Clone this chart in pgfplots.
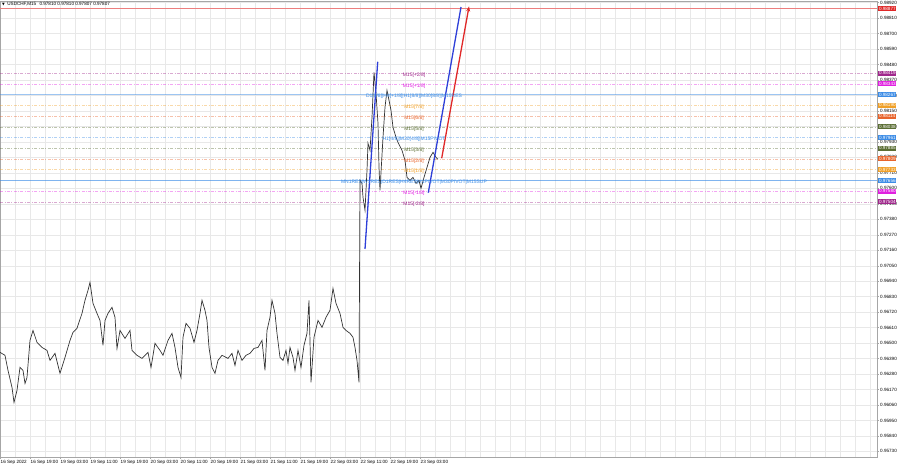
\documentclass[border=0pt]{standalone}
\usepackage{pgfplots}
\pgfplotsset{compat=1.18}
\usetikzlibrary{arrows.meta}
\usepackage{fontspec}
\setmainfont{Liberation Sans}
\newfontfamily\symfont{DejaVu Sans}
\definecolor{mpurple}{HTML}{A0288C}
\definecolor{mmag}{HTML}{E020E0}
\definecolor{mblue}{HTML}{3C8CE6}
\definecolor{morange}{HTML}{F0A028}
\definecolor{mred}{HTML}{E8642C}
\definecolor{molive}{HTML}{5B6E34}
\definecolor{tred}{HTML}{E02828}
\definecolor{tlblue}{HTML}{2E3FD8}
\newcommand{\fs}{\fontsize{4.6}{5}\selectfont}
\newcommand{\ft}{\fontsize{5}{6}\selectfont}
\begin{document}
\begin{tikzpicture}
\path[use as bounding box] (0pt,0pt) rectangle (900pt,468pt);
\begin{axis}[
  at={(0pt,11pt)}, anchor=south west, scale only axis,
  width=877pt, height=456pt,
  xmin=0, xmax=877, ymin=0.95690, ymax=0.98932,
  axis line style={gray!70, line width=0.6pt},
  xtick={0,30,...,420},
  xticklabels={16 Sep 2022,16 Sep 19:00,19 Sep 03:00,19 Sep 11:00,19 Sep 19:00,20 Sep 03:00,20 Sep 11:00,20 Sep 19:00,21 Sep 03:00,21 Sep 11:00,21 Sep 19:00,22 Sep 03:00,22 Sep 11:00,22 Sep 19:00,23 Sep 03:00},
  minor xtick={15,30,...,870},
  ytick={0.95730,0.95840,0.95950,0.96060,0.96170,0.96280,0.96390,0.96500,0.96610,0.96720,0.96830,0.96940,0.97050,0.97160,0.97270,0.97380,0.97490,0.97600,0.97710,0.97820,0.97930,0.98040,0.98150,0.98260,0.98370,0.98480,0.98590,0.98700,0.98810,0.98920},
  xtick pos=left, ytick pos=right, yticklabel pos=right,
  tick align=outside, major tick length=2pt, minor tick length=0pt,
  tick style={gray!70, line width=0.4pt},
  grid=both,
  major grid style={gray!18, line width=0.4pt},
  minor grid style={gray!18, line width=0.4pt},
  scaled y ticks=false,
  /pgf/number format/assume math mode=true,
  xticklabel style={font=\fs, anchor=north west, xshift=-0.5pt, inner sep=1pt},
  yticklabel style={font=\fs, anchor=west, inner sep=1pt, /pgf/number format/.cd, fixed, fixed zerofill, precision=5},
  lvl/.style={opacity=0.4, line width=0.45pt, dash pattern=on 3pt off 1.5pt on 0.8pt off 1.5pt},
]
% Murrey level lines
\addplot[tred!60, line width=0.5pt] coordinates {(0,0.98877) (877,0.98877)};
\addplot[mpurple, lvl] coordinates {(0,0.98419) (877,0.98419)};
\addplot[mmag, lvl] coordinates {(0,0.98343) (877,0.98343)};
\addplot[mblue, opacity=0.5, line width=0.5pt] coordinates {(0,0.98267) (877,0.98267)};
\addplot[morange, lvl] coordinates {(0,0.98190) (877,0.98190)};
\addplot[mred, lvl] coordinates {(0,0.98114) (877,0.98114)};
\addplot[molive, lvl] coordinates {(0,0.98038) (877,0.98038)};
\addplot[mblue, lvl] coordinates {(0,0.97961) (877,0.97961)};
\addplot[molive, lvl] coordinates {(0,0.97885) (877,0.97885)};
\addplot[mred, lvl] coordinates {(0,0.97809) (877,0.97809)};
\addplot[morange, lvl] coordinates {(0,0.97733) (877,0.97733)};
\addplot[mblue, opacity=0.65, line width=0.6pt] coordinates {(0,0.97656) (877,0.97656)};
\addplot[mmag, lvl] coordinates {(0,0.97580) (877,0.97580)};
\addplot[mpurple, lvl] coordinates {(0,0.97504) (877,0.97504)};
% price series (M15 closes, approximated)
\addplot[black!80, line width=0.7pt] coordinates {
(0,0.96434)(5,0.96413)(8,0.96306)(12,0.96185)(14,0.96078)(17,0.96164)(20,0.96327)(23,0.96306)(25,0.96213)(27,0.96256)
(30,0.96519)(33,0.96590)(37,0.96505)(42,0.96469)(47,0.96448)(50,0.96377)(55,0.96427)(60,0.96285)(65,0.96398)(70,0.96519)
(73,0.96576)(77,0.96605)(82,0.96711)(85,0.96804)(88,0.96875)(90,0.96932)(93,0.96782)(97,0.96711)(100,0.96661)(103,0.96484)
(105,0.96661)(108,0.96711)(112,0.96754)(115,0.96683)(117,0.96462)(120,0.96590)(125,0.96533)(130,0.96590)(132,0.96448)(137,0.96413)
(142,0.96391)(148,0.96434)(151,0.96327)(155,0.96498)(160,0.96448)(163,0.96413)(168,0.96519)(172,0.96569)(175,0.96469)(178,0.96327)
(181,0.96256)(183,0.96541)(186,0.96640)(190,0.96605)(194,0.96505)(197,0.96590)(200,0.96711)(202,0.96804)(205,0.96733)(207,0.96661)
(209,0.96469)(212,0.96327)(215,0.96285)(218,0.96377)(222,0.96413)(228,0.96391)(232,0.96427)(235,0.96341)(238,0.96448)(242,0.96377)
(246,0.96413)(250,0.96427)(254,0.96462)(258,0.96469)(262,0.96519)(265,0.96306)(267,0.96590)(270,0.96683)(272,0.96804)(275,0.96711)
(277,0.96569)(280,0.96398)(283,0.96377)(286,0.96448)(288,0.96356)(290,0.96469)(293,0.96398)(295,0.96306)(298,0.96448)(301,0.96327)
(304,0.96484)(307,0.96569)(309,0.96804)(311,0.96221)(314,0.96541)(318,0.96661)(322,0.96612)(326,0.96683)(330,0.96733)(333,0.96889)
(336,0.96782)(340,0.96711)(343,0.96612)(346,0.96590)(350,0.96569)(353,0.96541)(355,0.96469)(357,0.96377)(359,0.96221)(360,0.97657)
(362,0.97635)(363,0.97536)(365,0.97444)(367,0.97728)(368,0.97920)(370,0.97870)(372,0.98105)(374,0.98425)(376,0.98275)(378,0.98062)
(379,0.97749)(380,0.97586)(383,0.97963)(385,0.98176)(387,0.98297)(389,0.98226)(391,0.98155)(393,0.98034)(396,0.97963)(398,0.97927)
(402,0.97870)(405,0.97799)(407,0.97678)(410,0.97657)(413,0.97678)(416,0.97635)(419,0.97657)(421,0.97600)(424,0.97678)(427,0.97749)
(430,0.97820)(433,0.97856)(436,0.97820)(438,0.97807)
};
% trend lines
\addplot[tlblue, line width=1.3pt] coordinates {(365,0.97169) (377.7,0.98500)};
\addplot[tlblue, line width=1.3pt] coordinates {(428.3,0.97569) (461,0.98889)};
\addplot[tred, line width=1.3pt, -{Stealth[length=5pt,width=4pt]}] coordinates {(441.7,0.97814) (469,0.98893)};
% level texts
\node[font=\ft, text=mpurple, yshift=-2pt] at (axis cs:414,0.98419) {M15[+2/8]};
\node[font=\ft, text=mmag, yshift=-2pt] at (axis cs:414,0.98343) {M15[+1/8]};
\node[font=\ft, text=mblue, yshift=-2pt] at (axis cs:414,0.98267) {D1[8/8]|H4[+1/8]|H1[8/8]|M30[8/8]|M15RES};
\node[font=\ft, text=morange, yshift=-2pt] at (axis cs:414,0.98190) {M15[7/8]};
\node[font=\ft, text=mred, yshift=-2pt] at (axis cs:414,0.98114) {M15[6/8]};
\node[font=\ft, text=molive, yshift=-2pt] at (axis cs:414,0.98038) {M15[5/8]};
\node[font=\ft, text=mblue, yshift=-2pt] at (axis cs:414,0.97961) {H1[4/8]|M30[4/8]|M15PIVOT};
\node[font=\ft, text=molive, yshift=-2pt] at (axis cs:414,0.97885) {M15[3/8]};
\node[font=\ft, text=mred, yshift=-2pt] at (axis cs:414,0.97809) {M15[2/8]};
\node[font=\ft, text=morange, yshift=-2pt] at (axis cs:414,0.97733) {M15[1/8]};
\node[font=\ft, text=mblue, yshift=-2pt] at (axis cs:414,0.97656) {MN1RES|W1RES|D1RES|H4RES|H1PIVOT|M30PIVOT|M15SUP};
\node[font=\ft, text=mmag, yshift=-2pt] at (axis cs:414,0.97580) {M15[-1/8]};
\node[font=\ft, text=mpurple, yshift=-2pt] at (axis cs:414,0.97504) {M15[-2/8]};
% anchors for price tags
\coordinate (t0) at (axis cs:877,0.98877);
\coordinate (t1) at (axis cs:877,0.98419);
\coordinate (t2) at (axis cs:877,0.98343);
\coordinate (t3) at (axis cs:877,0.98267);
\coordinate (t4) at (axis cs:877,0.98190);
\coordinate (t5) at (axis cs:877,0.98114);
\coordinate (t6) at (axis cs:877,0.98038);
\coordinate (t7) at (axis cs:877,0.97961);
\coordinate (t8) at (axis cs:877,0.97885);
\coordinate (t9) at (axis cs:877,0.97809);
\coordinate (t10) at (axis cs:877,0.97733);
\coordinate (t11) at (axis cs:877,0.97656);
\coordinate (t12) at (axis cs:877,0.97580);
\coordinate (t13) at (axis cs:877,0.97504);
\end{axis}
\tikzset{tag/.style={anchor=west, xshift=1pt, font=\fs, text=white, inner xsep=0.8pt, inner ysep=0.9pt}}
\node[tag, fill=tred] at (t0) {0.98877};
\node[tag, fill=mpurple] at (t1) {0.98419};
\node[tag, fill=mmag] at (t2) {0.98343};
\node[tag, fill=mblue] at (t3) {0.98267};
\node[tag, fill=morange] at (t4) {0.98190};
\node[tag, fill=mred] at (t5) {0.98114};
\node[tag, fill=molive] at (t6) {0.98038};
\node[tag, fill=mblue] at (t7) {0.97961};
\node[tag, fill=molive] at (t8) {0.97885};
\node[tag, fill=mred] at (t9) {0.97809};
\node[tag, fill=morange] at (t10) {0.97733};
\node[tag, fill=mblue] at (t11) {0.97656};
\node[tag, fill=mmag] at (t12) {0.97580};
\node[tag, fill=mpurple] at (t13) {0.97504};
% title
\node[anchor=west, font=\fs, inner sep=0pt] at (2pt,463.5pt) {{\symfont\fontsize{3.5}{4}\selectfont ▼}\hspace{2.5pt}USDCHF,M15\hspace{2pt} 0.97810 0.97810 0.97807 0.97807};
\end{tikzpicture}
\end{document}
